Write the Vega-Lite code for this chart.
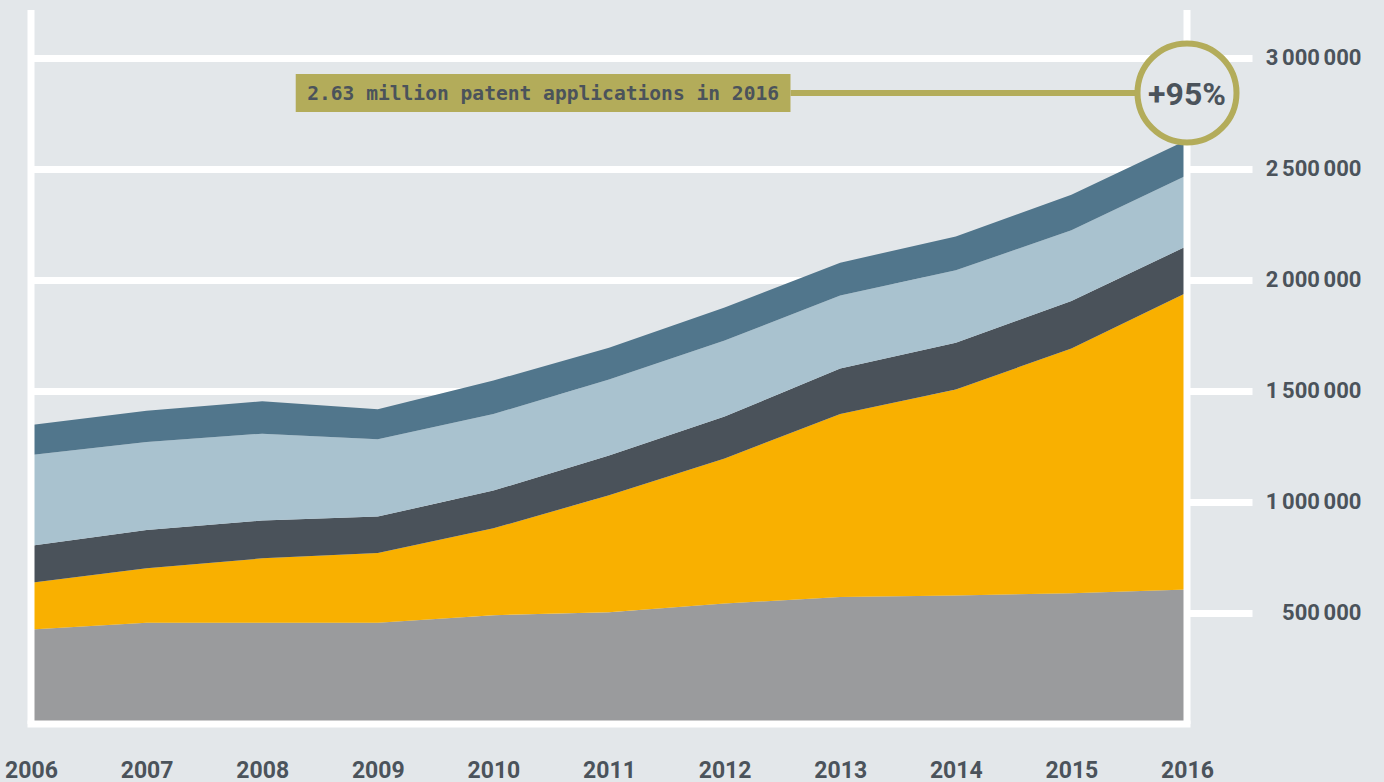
{
  "$schema": "https://vega.github.io/schema/vega-lite/v6.json",
  "width": 1156,
  "height": 714,
  "autosize": {"type": "none"},
  "padding": {"left": 31, "top": 10, "right": 197, "bottom": 58},
  "background": "#e3e7ea",
  "config": {
    "view": {"stroke": null},
    "locale": {"number": {"decimal": ".", "thousands": "\u2006", "grouping": [3], "currency": ["", ""]}}
  },
  "datasets": {
    "patents": [
      {"year": 2006, "office": "US", "o": 1, "value": 425966},
      {"year": 2007, "office": "US", "o": 1, "value": 456154},
      {"year": 2008, "office": "US", "o": 1, "value": 456321},
      {"year": 2009, "office": "US", "o": 1, "value": 456106},
      {"year": 2010, "office": "US", "o": 1, "value": 490226},
      {"year": 2011, "office": "US", "o": 1, "value": 503582},
      {"year": 2012, "office": "US", "o": 1, "value": 542815},
      {"year": 2013, "office": "US", "o": 1, "value": 571612},
      {"year": 2014, "office": "US", "o": 1, "value": 578802},
      {"year": 2015, "office": "US", "o": 1, "value": 589410},
      {"year": 2016, "office": "US", "o": 1, "value": 605571},
      {"year": 2006, "office": "CN", "o": 2, "value": 210490},
      {"year": 2007, "office": "CN", "o": 2, "value": 245161},
      {"year": 2008, "office": "CN", "o": 2, "value": 289838},
      {"year": 2009, "office": "CN", "o": 2, "value": 314604},
      {"year": 2010, "office": "CN", "o": 2, "value": 391177},
      {"year": 2011, "office": "CN", "o": 2, "value": 526412},
      {"year": 2012, "office": "CN", "o": 2, "value": 652777},
      {"year": 2013, "office": "CN", "o": 2, "value": 825136},
      {"year": 2014, "office": "CN", "o": 2, "value": 928177},
      {"year": 2015, "office": "CN", "o": 2, "value": 1101864},
      {"year": 2016, "office": "CN", "o": 2, "value": 1338503},
      {"year": 2006, "office": "KR", "o": 3, "value": 166189},
      {"year": 2007, "office": "KR", "o": 3, "value": 172469},
      {"year": 2008, "office": "KR", "o": 3, "value": 170632},
      {"year": 2009, "office": "KR", "o": 3, "value": 163523},
      {"year": 2010, "office": "KR", "o": 3, "value": 170101},
      {"year": 2011, "office": "KR", "o": 3, "value": 178924},
      {"year": 2012, "office": "KR", "o": 3, "value": 188915},
      {"year": 2013, "office": "KR", "o": 3, "value": 204589},
      {"year": 2014, "office": "KR", "o": 3, "value": 210292},
      {"year": 2015, "office": "KR", "o": 3, "value": 213694},
      {"year": 2016, "office": "KR", "o": 3, "value": 208830},
      {"year": 2006, "office": "JP", "o": 4, "value": 408674},
      {"year": 2007, "office": "JP", "o": 4, "value": 396291},
      {"year": 2008, "office": "JP", "o": 4, "value": 391002},
      {"year": 2009, "office": "JP", "o": 4, "value": 348596},
      {"year": 2010, "office": "JP", "o": 4, "value": 344598},
      {"year": 2011, "office": "JP", "o": 4, "value": 342610},
      {"year": 2012, "office": "JP", "o": 4, "value": 342796},
      {"year": 2013, "office": "JP", "o": 4, "value": 328436},
      {"year": 2014, "office": "JP", "o": 4, "value": 325989},
      {"year": 2015, "office": "JP", "o": 4, "value": 318721},
      {"year": 2016, "office": "JP", "o": 4, "value": 318381},
      {"year": 2006, "office": "EP", "o": 5, "value": 135231},
      {"year": 2007, "office": "EP", "o": 5, "value": 140763},
      {"year": 2008, "office": "EP", "o": 5, "value": 146150},
      {"year": 2009, "office": "EP", "o": 5, "value": 134511},
      {"year": 2010, "office": "EP", "o": 5, "value": 151015},
      {"year": 2011, "office": "EP", "o": 5, "value": 142822},
      {"year": 2012, "office": "EP", "o": 5, "value": 148562},
      {"year": 2013, "office": "EP", "o": 5, "value": 148027},
      {"year": 2014, "office": "EP", "o": 5, "value": 152703},
      {"year": 2015, "office": "EP", "o": 5, "value": 160004},
      {"year": 2016, "office": "EP", "o": 5, "value": 159316}
    ],
    "frame": [{"x": 2006}, {"x": 2016}],
    "note": [
      {"label": "2.63 million patent applications in 2016", "badge": "+95%", "x1": 2008.29, "x2": 2012.57, "xm": 2010.43, "xc": 2016, "y1": 2927900, "y2": 2756750, "ym": 2842300}
    ]
  },
  "layer": [
    {
      "data": {"name": "patents"},
      "mark": {"type": "area", "interpolate": "linear"},
      "encoding": {
        "x": {
          "field": "year", "type": "quantitative",
          "scale": {"domain": [2006, 2016], "nice": false, "zero": false},
          "axis": {
            "values": [2006, 2007, 2008, 2009, 2010, 2011, 2012, 2013, 2014, 2015, 2016],
            "format": "d", "title": null, "grid": false, "domain": false, "ticks": false, "tickSize": 0,
            "labelFlush": false, "labelBaseline": "alphabetic", "labelPadding": 53, "labelDx": 3,
            "labelFont": "Roboto", "labelFontWeight": "bold", "labelFontSize": 23, "labelColor": "#4b535b"
          }
        },
        "y": {
          "field": "value", "type": "quantitative", "stack": "zero",
          "scale": {"domain": [0, 3216000], "nice": false},
          "axis": {
            "orient": "right",
            "values": [500000, 1000000, 1500000, 2000000, 2500000, 3000000],
            "format": ",d", "title": null, "domain": false,
            "grid": true, "gridColor": "#ffffff", "gridWidth": 7, "gridOpacity": 1,
            "ticks": true, "tickColor": "#ffffff", "tickWidth": 7, "tickSize": 65, "tickOpacity": 1,
            "labelAlign": "right", "labelPadding": 109, "labelBaseline": "middle", "labelFlush": false,
            "labelFont": "Roboto", "labelFontWeight": "bold", "labelFontSize": 22, "labelColor": "#4b535b"
          }
        },
        "color": {
          "field": "office", "type": "nominal", "legend": null,
          "scale": {"domain": ["US", "CN", "KR", "JP", "EP"], "range": ["#9a9b9d", "#f9b000", "#4a525a", "#a9c2cf", "#51768c"]}
        },
        "order": {"field": "o", "type": "quantitative"}
      }
    },
    {
      "data": {"name": "frame"},
      "mark": {"type": "rule", "color": "#ffffff", "strokeWidth": 7},
      "encoding": {
        "x": {"field": "x", "type": "quantitative"},
        "y": {"datum": 0},
        "y2": {"datum": 3216000}
      }
    },
    {
      "data": {"values": [{}]},
      "mark": {"type": "rule", "color": "#ffffff", "strokeWidth": 7, "strokeCap": "square"},
      "encoding": {
        "x": {"datum": 2006},
        "x2": {"datum": 2016},
        "y": {"datum": 0}
      }
    },
    {
      "data": {"name": "note"},
      "mark": {"type": "rule", "color": "#b3ac5a", "strokeWidth": 6},
      "encoding": {
        "x": {"field": "x2", "type": "quantitative"},
        "x2": {"field": "xc"},
        "y": {"field": "ym", "type": "quantitative"}
      }
    },
    {
      "data": {"name": "note"},
      "mark": {"type": "rect", "color": "#b3ac5a"},
      "encoding": {
        "x": {"field": "x1", "type": "quantitative"},
        "x2": {"field": "x2"},
        "y": {"field": "y1", "type": "quantitative"},
        "y2": {"field": "y2"}
      }
    },
    {
      "data": {"name": "note"},
      "mark": {"type": "text", "font": "DejaVu Sans Mono", "fontWeight": "bold", "fontSize": 19.6, "color": "#4b535b", "align": "center", "baseline": "middle", "dy": 1},
      "encoding": {
        "x": {"field": "xm", "type": "quantitative"},
        "y": {"field": "ym", "type": "quantitative"},
        "text": {"field": "label"}
      }
    },
    {
      "data": {"name": "note"},
      "mark": {"type": "point", "shape": "circle", "size": 9801, "filled": false, "fill": "#e3e7ea", "fillOpacity": 1, "stroke": "#b3ac5a", "strokeWidth": 6, "opacity": 1},
      "encoding": {
        "x": {"field": "xc", "type": "quantitative"},
        "y": {"field": "ym", "type": "quantitative"}
      }
    },
    {
      "data": {"name": "note"},
      "mark": {"type": "text", "font": "Roboto", "fontWeight": "bold", "fontSize": 32, "color": "#4b535b", "align": "center", "baseline": "middle", "dy": 2},
      "encoding": {
        "x": {"field": "xc", "type": "quantitative"},
        "y": {"field": "ym", "type": "quantitative"},
        "text": {"field": "badge"}
      }
    }
  ]
}
